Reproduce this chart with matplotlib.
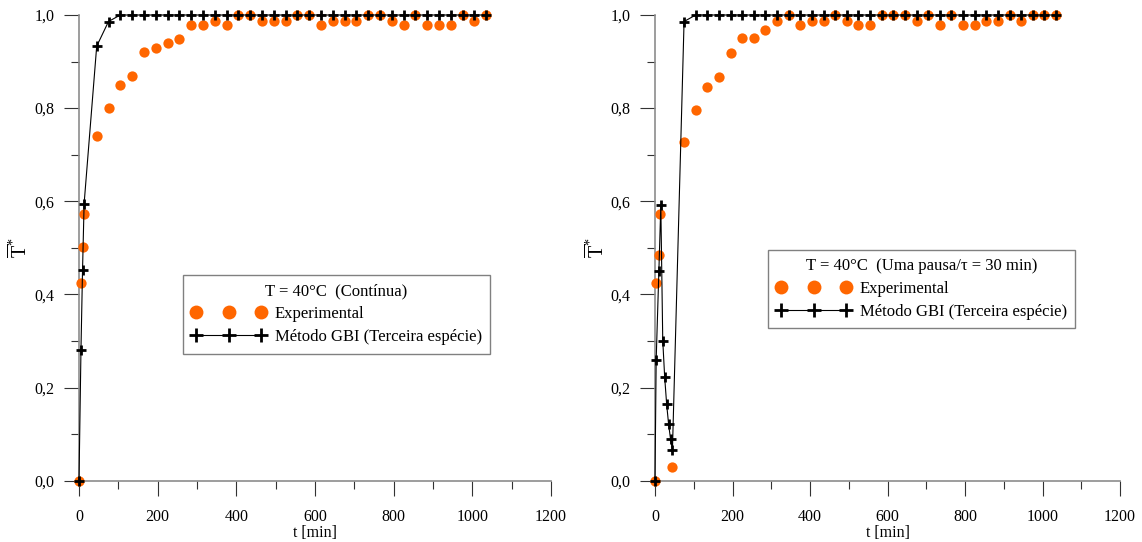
import matplotlib
matplotlib.use('Agg')
import matplotlib.pyplot as plt
from matplotlib.ticker import MultipleLocator, FuncFormatter

plt.rcParams['font.family'] = ['Liberation Serif', 'DejaVu Serif']
plt.rcParams['mathtext.fontset'] = 'custom'
plt.rcParams['mathtext.rm'] = 'Liberation Serif'
plt.rcParams['mathtext.it'] = 'Liberation Serif:italic'

ORANGE = '#ff6600'

# left panel: continuous drying
cont_exp_t = [0, 5, 9, 13, 45, 75, 105, 135, 165, 195, 225, 255, 285, 315, 345,
              375, 405, 435, 465, 495, 525, 555, 585, 615, 645, 675, 705, 735,
              765, 795, 825, 855, 885, 915, 945, 975, 1005, 1035]
cont_exp_y = [0.0, 0.424, 0.502, 0.572, 0.74, 0.80, 0.85, 0.869, 0.92, 0.93,
              0.939, 0.949, 0.978, 0.978, 0.988, 0.978, 1.0, 1.0, 0.988, 0.988,
              0.988, 1.0, 1.0, 0.978, 0.988, 0.988, 0.988, 1.0, 1.0, 0.988,
              0.978, 1.0, 0.978, 0.978, 0.978, 1.0, 0.988, 1.0]
cont_gbi_t = [0, 5, 9, 13, 45, 75, 105, 135, 165, 195, 225, 255, 285, 315, 345,
              375, 405, 435, 465, 495, 525, 555, 585, 615, 645, 675, 705, 735,
              765, 795, 825, 855, 885, 915, 945, 975, 1005, 1035]
cont_gbi_y = [0.0, 0.281, 0.453, 0.595, 0.933, 0.986, 1.0, 1.0, 1.0, 1.0, 1.0,
              1.0, 1.0, 1.0, 1.0, 1.0, 1.0, 1.0, 1.0, 1.0, 1.0, 1.0, 1.0, 1.0,
              1.0, 1.0, 1.0, 1.0, 1.0, 1.0, 1.0, 1.0, 1.0, 1.0, 1.0, 1.0, 1.0, 1.0]

# right panel: one pause, tau = 30 min
pause_exp_t = [0, 2, 10, 14, 45, 75, 105, 135, 165, 195, 225, 255, 285, 315, 345,
               375, 405, 435, 465, 495, 525, 555, 585, 615, 645, 675, 705, 735,
               765, 795, 825, 855, 885, 915, 945, 975, 1005, 1035]
pause_exp_y = [0.0, 0.424, 0.484, 0.573, 0.03, 0.728, 0.796, 0.846, 0.867,
               0.918, 0.95, 0.95, 0.968, 0.988, 1.0, 0.978, 0.988, 0.988, 1.0,
               0.988, 0.978, 0.978, 1.0, 1.0, 1.0, 0.988, 1.0, 0.978, 1.0,
               0.978, 0.978, 0.988, 0.988, 1.0, 0.988, 1.0, 1.0, 1.0]
pause_gbi_t = [0, 3, 10, 15, 20, 25, 30, 35, 40, 45, 75, 105, 135, 165, 195, 225,
               255, 285, 315, 345, 375, 405, 435, 465, 495, 525, 555, 585, 615,
               645, 675, 705, 735, 765, 795, 825, 855, 885, 915, 945, 975, 1005,
               1035]
pause_gbi_y = [0.0, 0.259, 0.45, 0.591, 0.301, 0.222, 0.165, 0.122, 0.09, 0.066,
               0.986, 1.0, 1.0, 1.0, 1.0, 1.0, 1.0, 1.0, 1.0, 1.0, 1.0, 1.0, 1.0,
               1.0, 1.0, 1.0, 1.0, 1.0, 1.0, 1.0, 1.0, 1.0, 1.0, 1.0, 1.0, 1.0,
               1.0, 1.0, 1.0, 1.0, 1.0, 1.0, 1.0]

titles = ['T = 40°C  (Contínua)', 'T = 40°C  (Uma pausa/τ = 30 min)']
exp_label = 'Experimental'
gbi_label = 'Método GBI (Terceira espécie)'

W, H = 1142, 542
fig = plt.figure(figsize=(W / 100, H / 100), dpi=100)
ax1 = fig.add_axes([79 / W, 61.3 / H, 472 / W, 465.7 / H])
ax2 = fig.add_axes([655 / W, 61.3 / H, 465 / W, 465.7 / H])

comma = FuncFormatter(lambda v, p: f'{v:.1f}'.replace('.', ','))


def draw(ax, et, ey, gt, gy, title, anchor):
    ax.plot(et, ey, 'o', color=ORANGE, ms=7.4, mec='none', clip_on=False,
            label=exp_label, zorder=3)
    ax.plot(gt, gy, '-', color='black', lw=0.8, marker='+', ms=7.6, mew=2.0,
            clip_on=False, label=gbi_label, zorder=4)
    ax.set_xlim(0, 1200)
    ax.set_ylim(0, 1)
    ax.xaxis.set_major_locator(MultipleLocator(200))
    ax.xaxis.set_minor_locator(MultipleLocator(100))
    ax.yaxis.set_major_locator(MultipleLocator(0.2))
    ax.yaxis.set_minor_locator(MultipleLocator(0.1))
    ax.yaxis.set_major_formatter(comma)
    for s in ['top', 'right']:
        ax.spines[s].set_visible(False)
    for s in ['left', 'bottom']:
        ax.spines[s].set_color('#8c8c8c')
        ax.spines[s].set_linewidth(1.2)
    ax.tick_params(which='major', length=10.5, width=0.8, color='#333333',
                   direction='out', labelsize=11.5)
    ax.tick_params(which='minor', length=5.5, width=0.8, color='#333333',
                   direction='out')
    ax.tick_params(axis='x', which='major', pad=10)
    ax.tick_params(axis='y', which='major', pad=7)
    ax.set_xlabel('t [min]', fontsize=11.5, labelpad=0)
    ax.set_ylabel(r'$\overline{\mathrm{T}}^{*}$', fontsize=14.5)
    ax.yaxis.set_label_coords(-0.1, 0.5)
    leg = ax.legend(title=title, loc='upper left', bbox_to_anchor=anchor,
                    numpoints=3, markerscale=1.35, handlelength=4.5,
                    handletextpad=0.5, borderpad=0.5, labelspacing=0.42,
                    borderaxespad=0, fancybox=False, framealpha=1,
                    edgecolor='#808080', fontsize=12, title_fontsize=12)
    leg.get_frame().set_linewidth(1.0)


draw(ax1, cont_exp_t, cont_exp_y, cont_gbi_t, cont_gbi_y, titles[0], (0.22, 0.442))
draw(ax2, pause_exp_t, pause_exp_y, pause_gbi_t, pause_gbi_y, titles[1], (0.243, 0.496))

fig.savefig('out.png', dpi=100)
